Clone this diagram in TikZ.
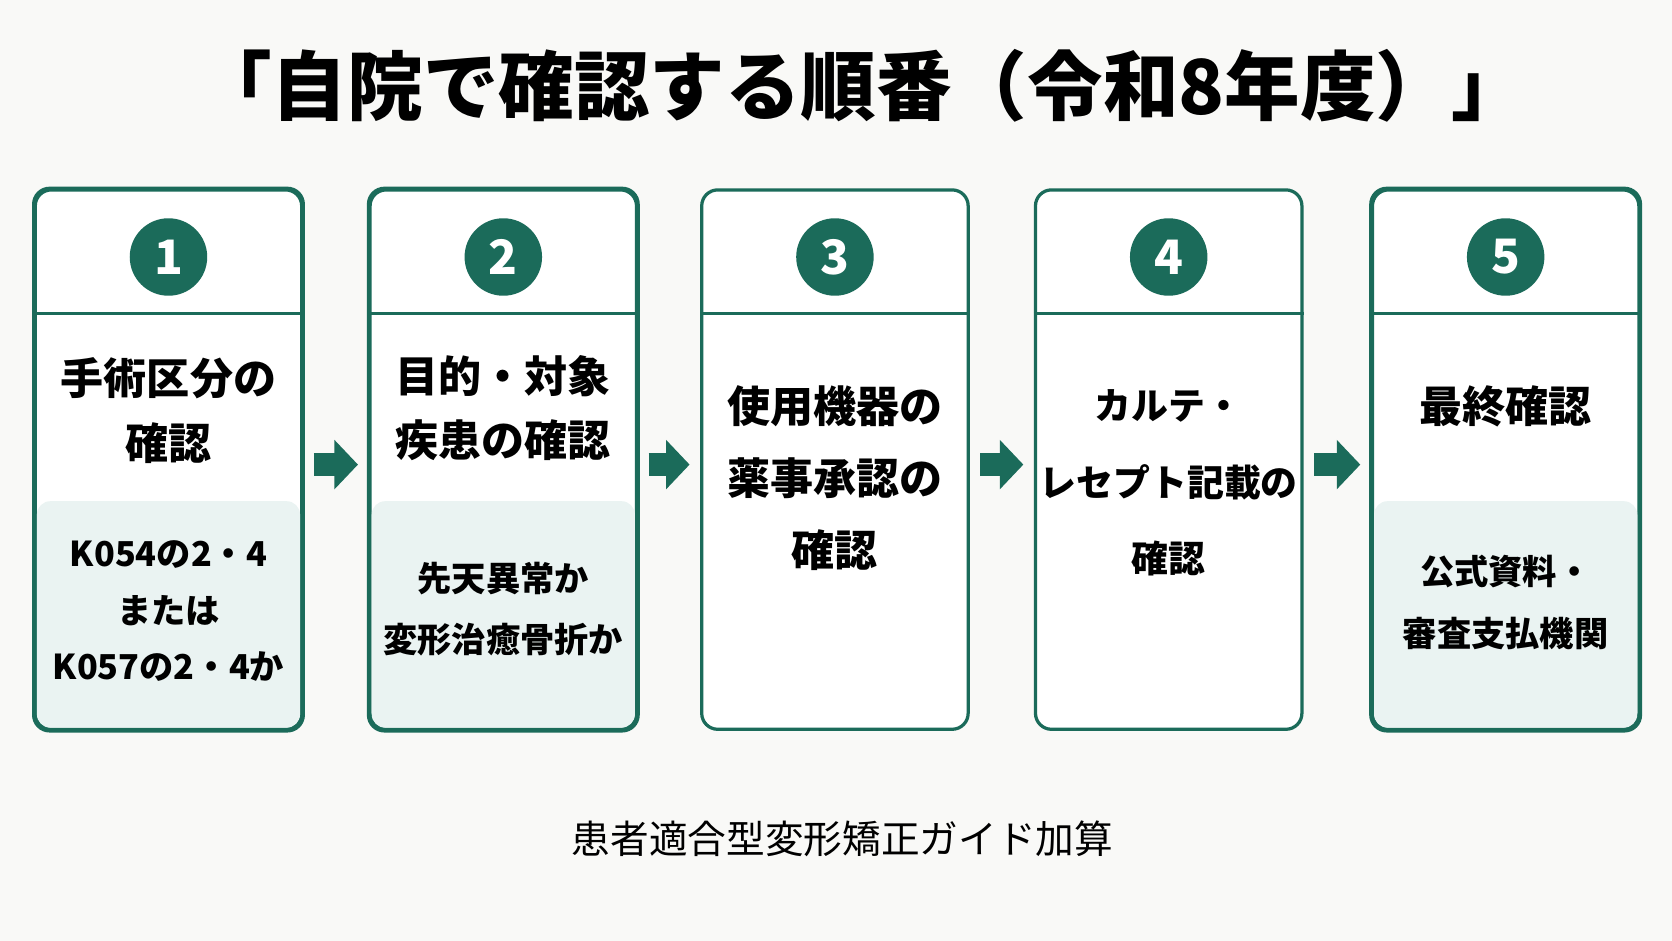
\documentclass[tikz,border=0pt]{standalone}
\usepackage{fontspec}
\newfontfamily\jp{Noto Sans CJK JP}
\usetikzlibrary{positioning}
\usetikzlibrary{arrows.meta}
\definecolor{dgreen}{HTML}{1B6B5A}
\definecolor{lgreen}{HTML}{EAF3F2}
\definecolor{bg}{HTML}{F9F9F7}
\tikzset{
  box/.style = {draw=dgreen, line width=0.065cm, rounded corners=0.32cm, fill=white,
                minimum width=5.33cm, minimum height=10.79cm},
  num/.style = {circle, fill=dgreen, text=white, minimum size=1.55cm, inner sep=0pt,
                font=\jp\bfseries\fontsize{27}{27}\selectfont},
  head/.style = {align=center, font=\jp\bfseries\fontsize{24.5}{36.5}\selectfont},
  sub/.style = {align=center, font=\jp\bfseries\fontsize{19.5}{32}\selectfont},
  flow/.style = {-{Triangle[length=0.47cm 0 0, width=0.96cm 0 0]}, line width=0.47cm,
                 dgreen, shorten <=0.21cm, shorten >=0.21cm}
}
\begin{document}
\begin{tikzpicture}[x=0.02133cm, y=-0.02133cm]

            \fill[bg] (0,0) rectangle (1568,882);
            \useasboundingbox (0,0) rectangle (1568,882);

            \node (title) at (808,80) [font=\jp\bfseries\fontsize{43}{43}\selectfont] {「自院で確認する順番（令和8年度）」};

            % boxes
            \node (b1) at (158,431) [box] {};
            \node (b2) at (472,431) [box] {};
            \node (b3) at (783,431) [box] {};
            \node (b4) at (1096,431) [box] {};
            \node (b5) at (1412,431) [box] {};

            \foreach \n in {1,...,5} {
                \draw[dgreen, line width=0.065cm] (b\n.west |- 0,294) -- (b\n.east |- 0,294);
            }
            \foreach \n in {1,2,5} {
                \fill[lgreen, rounded corners=0.27cm] ([xshift=0.065cm]b\n.west |- 0,470) rectangle ([xshift=-0.065cm,yshift=0.065cm]b\n.south east);
                \draw[dgreen, line width=0.065cm, rounded corners=0.32cm] (b\n.north west) rectangle (b\n.south east);
            }

            \node (n1) at (158,241) [num] {1};
            \node (n2) at (472,241) [num] {2};
            \node (n3) at (783,241) [num] {3};
            \node (n4) at (1096,241) [num] {4};
            \node (n5) at (1412,241) [num] {5};

            \node (h1) at (158,385) [head] {手術区分の\\確認};
            \node (h2) at (472,383) [head] {目的・対象\\疾患の確認};
            \node (h3) at (783,448) [head, font=\jp\bfseries\fontsize{24.5}{41}\selectfont] {使用機器の\\薬事承認の\\確認};
            \node (h4) at (1096,453) [head, font=\jp\bfseries\fontsize{21}{43.5}\selectfont] {カルテ・\\レセプト記載の\\確認};
            \node (h5) at (1412,381) [head] {最終確認};

            \node (s1) at (158,573) [sub] {K054の2・4\\または\\K057の2・4か};
            \node (s2) at (472,571) [sub, font=\jp\bfseries\fontsize{19.5}{35}\selectfont] {先天異常か\\変形治癒骨折か};
            \node (s5) at (1412,565) [sub, font=\jp\bfseries\fontsize{19.5}{35}\selectfont] {公式資料・\\審査支払機関};

            % arrows
            \draw[flow] ([yshift=-0.1cm]b1.east) -- ([yshift=-0.1cm]b2.west);
            \draw[flow] ([yshift=-0.1cm]b2.east) -- ([yshift=-0.1cm]b3.west);
            \draw[flow] ([yshift=-0.1cm]b3.east) -- ([yshift=-0.1cm]b4.west);
            \draw[flow] ([yshift=-0.1cm]b4.east) -- ([yshift=-0.1cm]b5.west);

            \node (foot) at (790,787) [font=\jp\fontsize{22}{22}\selectfont] {患者適合型変形矯正ガイド加算};

\end{tikzpicture}
\end{document}
